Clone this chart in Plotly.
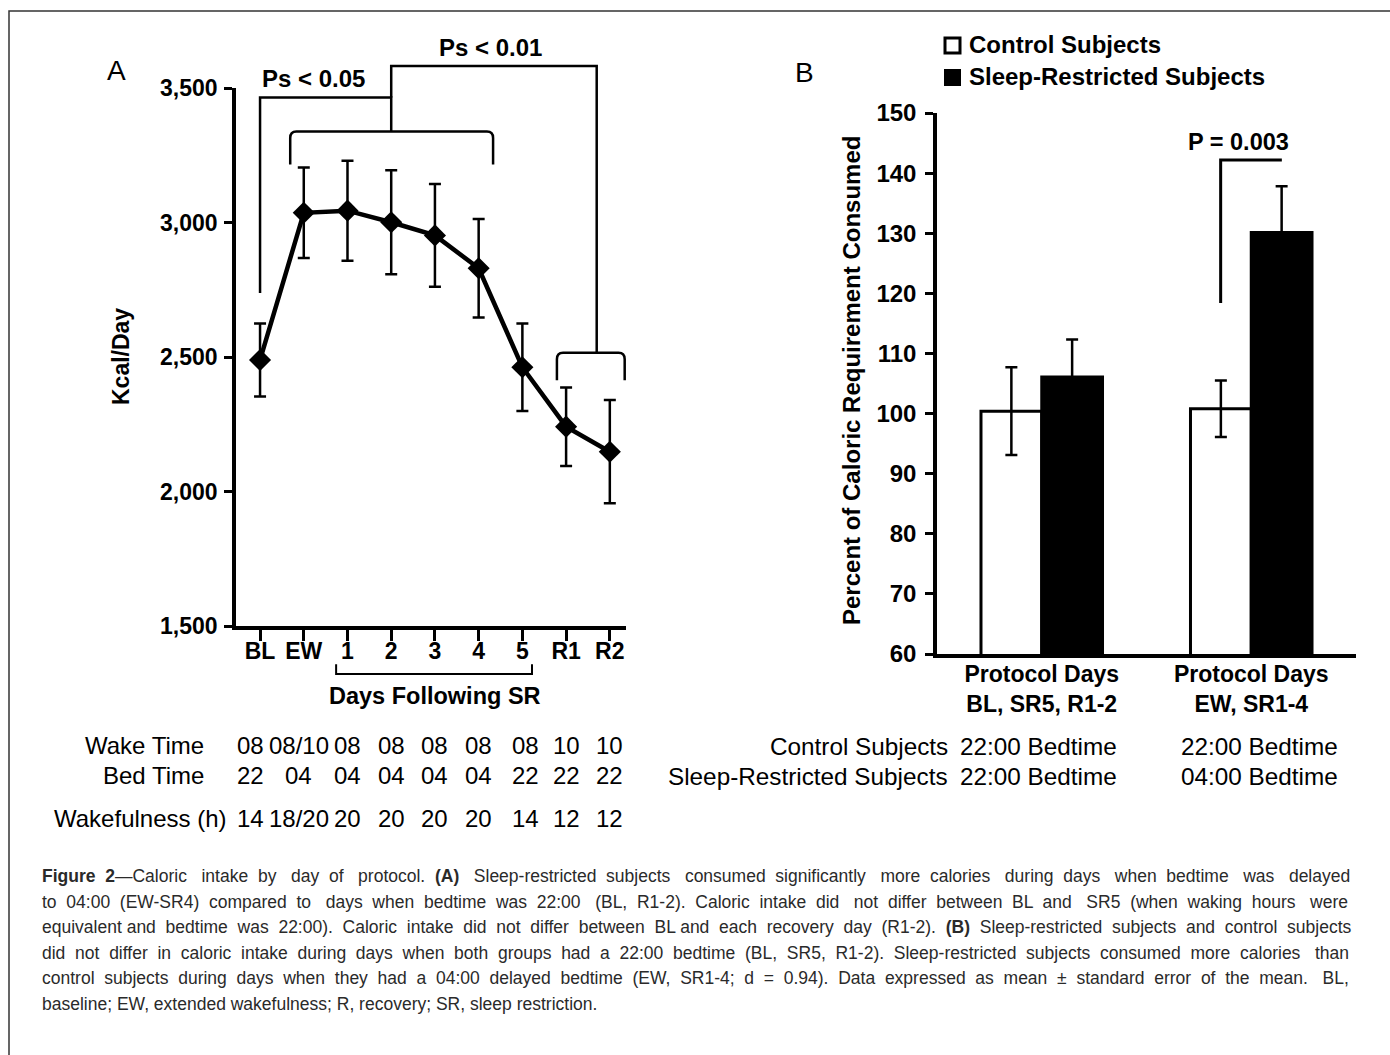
import re
import plotly.graph_objects as go

# ---------------- data ----------------
# Panel A: caloric intake by protocol day (mean, SEM)
days = ["BL", "EW", "1", "2", "3", "4", "5", "R1", "R2"]
kcal_mean = [2489, 3036, 3044, 3001, 2952, 2830, 2462, 2241, 2148]
kcal_sem = [136, 168, 186, 193, 191, 183, 163, 146, 192]
kcal_ticks = [1500, 2000, 2500, 3000, 3500]

wake_time = ["08", "08/10", "08", "08", "08", "08", "08", "10", "10"]
bed_time = ["22", "04", "04", "04", "04", "04", "22", "22", "22"]
wakefulness = ["14", "18/20", "20", "20", "20", "20", "14", "12", "12"]

# Panel B: percent of caloric requirement consumed
groups = ["Protocol Days<br>BL, SR5, R1-2", "Protocol Days<br>EW, SR1-4"]
control_pct = [100.4, 100.8]
control_sem = [7.3, 4.7]
sr_pct = [106.1, 130.1]
sr_sem = [6.2, 7.7]
control_bedtime = ["22:00 Bedtime", "22:00 Bedtime"]
sr_bedtime = ["22:00 Bedtime", "04:00 Bedtime"]

caption_lines = [
    "<b>Figure 2</b>—Caloric intake by day of protocol. <b>(A)</b> Sleep-restricted subjects consumed significantly more calories during days when bedtime was delayed",
    "to 04:00 (EW-SR4) compared to days when bedtime was 22:00 (BL, R1-2). Caloric intake did not differ between BL and SR5 (when waking hours were",
    "equivalent and bedtime was 22:00). Caloric intake did not differ between BL and each recovery day (R1-2). <b>(B)</b> Sleep-restricted subjects and control subjects",
    "did not differ in caloric intake during days when both groups had a 22:00 bedtime (BL, SR5, R1-2). Sleep-restricted subjects consumed more calories than",
    "control subjects during days when they had a 04:00 delayed bedtime (EW, SR1-4; d = 0.94). Data expressed as mean ± standard error of the mean. BL,",
    "baseline; EW, extended wakefulness; R, recovery; SR, sleep restriction.",
]
caption_justified = [True, True, True, True, True, False]

# ---------------- layout helpers ----------------
W, H = 1390, 1055
FONT = "Liberation Sans, Arial, Helvetica, sans-serif"


def px(x):
    return x / W


def py(y):
    return 1 - y / H


XA_RANGE = [-0.55, 8.37]
YA_RANGE = [1500, 3500]


def xd(i):  # category index -> x domain fraction (panel A)
    return (i - XA_RANGE[0]) / (XA_RANGE[1] - XA_RANGE[0])


def yd(v):  # kcal -> y domain fraction (panel A)
    return (v - YA_RANGE[0]) / (YA_RANGE[1] - YA_RANGE[0])


def brace_down(i0, i1, level, depth, r_i=0.14, r_v=24):
    """Horizontal bracket with rounded ends pointing down (domain coords)."""
    return (f"M {xd(i0)},{yd(level - depth)} L {xd(i0)},{yd(level - r_v)} "
            f"Q {xd(i0)},{yd(level)} {xd(i0 + r_i)},{yd(level)} "
            f"L {xd(i1 - r_i)},{yd(level)} "
            f"Q {xd(i1)},{yd(level)} {xd(i1)},{yd(level - r_v)} "
            f"L {xd(i1)},{yd(level - depth)}")


# Arial / Liberation Sans advance widths (1/1000 em) for caption justification
AR = {}
AR.update(zip("abcdefghijklmnopqrstuvwxyz",
              [556, 556, 500, 556, 556, 278, 556, 556, 222, 222, 500, 222, 833,
               556, 556, 556, 556, 333, 500, 278, 556, 500, 722, 500, 500, 500]))
AR.update(zip("ABCDEFGHIJKLMNOPQRSTUVWXYZ",
              [667, 667, 722, 722, 667, 611, 778, 722, 278, 500, 667, 556, 833,
               722, 778, 667, 778, 722, 667, 611, 722, 667, 944, 667, 667, 611]))
AR.update({d: 556 for d in "0123456789"})
AR.update({" ": 278, ".": 278, ",": 278, ":": 278, ";": 278, "(": 333, ")": 333,
           "-": 333, "—": 1000, "±": 584, "=": 584})
AB = {"F": 611, "i": 278, "g": 611, "u": 611, "r": 389, "e": 556, "2": 556,
      "(": 333, ")": 333, "A": 722, "B": 722, " ": 278}


def text_width(s, size):
    total, bold = 0, False
    for part in re.split(r"(</?b>)", s):
        if part == "<b>":
            bold = True
            continue
        if part == "</b>":
            bold = False
            continue
        tbl = AB if bold else AR
        total += sum(tbl.get(c, AR.get(c, 556)) for c in part)
    return total * size / 1000


def justify(s, size, width):
    words = s.split(" ")
    gaps = len(words) - 1
    extra = width - text_width(s, size)
    n = max(0, int(round(extra / (0.278 * size))))
    out = words[0]
    for g in range(gaps):
        k = (n * (g + 1)) // gaps - (n * g) // gaps
        out += " " + "\u00a0" * k + words[g + 1]
    return out


fig = go.Figure()

# Panel A line
fig.add_trace(go.Scatter(
    x=days, y=kcal_mean, mode="lines+markers",
    line=dict(color="black", width=4.5),
    marker=dict(symbol="diamond", size=17, color="black"),
    error_y=dict(type="data", array=kcal_sem, color="black", thickness=2.5, width=6),
    xaxis="x", yaxis="y", showlegend=False, cliponaxis=False,
))

# Panel B bars
fig.add_trace(go.Bar(
    x=groups, y=control_pct, name="Control Subjects",
    marker=dict(color="white", line=dict(color="black", width=3)),
    error_y=dict(type="data", array=control_sem, color="black", thickness=2.5, width=6),
    xaxis="x2", yaxis="y2", showlegend=False,
))
fig.add_trace(go.Bar(
    x=groups, y=sr_pct, name="Sleep-Restricted Subjects",
    marker=dict(color="black", line=dict(color="black", width=3)),
    error_y=dict(type="data", array=sr_sem, color="black", thickness=2.5, width=6),
    xaxis="x2", yaxis="y2", showlegend=False,
))

axis_common = dict(showline=True, linecolor="black", linewidth=3.5, showgrid=False,
                   zeroline=False, tickcolor="black", tickwidth=2.5, automargin=False)
bold_tick = dict(family=FONT, size=23, color="black", weight="bold")

fig.update_layout(
    width=W, height=H, autosize=False,
    margin=dict(l=0, r=0, t=0, b=0, autoexpand=False),
    paper_bgcolor="white", plot_bgcolor="white",
    barmode="group", bargap=0.42, bargroupgap=0,
    font=dict(family=FONT, color="black"),
    xaxis=dict(domain=[px(236), px(626)], anchor="y", type="category",
               categoryorder="array", categoryarray=days, range=XA_RANGE,
               ticks="outside", ticklen=11, ticklabelstandoff=-9,
               tickfont=bold_tick, **axis_common),
    yaxis=dict(domain=[py(626), py(88)], anchor="x", range=YA_RANGE,
               tickvals=kcal_ticks, tickformat=",", ticks="outside", ticklen=8,
               tickfont=bold_tick, ticklabelstandoff=2, **axis_common),
    xaxis2=dict(domain=[px(937), px(1356)], anchor="y2", type="category",
                range=[-0.5, 1.5], ticks="", ticklabelstandoff=-3,
                tickfont=bold_tick, **axis_common),
    yaxis2=dict(domain=[py(654), py(113)], anchor="x2", range=[60, 150],
                dtick=10, ticks="outside", ticklen=8, ticklabelstandoff=4,
                tickfont=dict(bold_tick, size=24), **axis_common),
)

shapes = []
# outer frame
shapes.append(dict(type="rect", xref="paper", yref="paper", x0=px(9), y0=py(1080),
                   x1=px(1420), y1=py(11), line=dict(color="#333333", width=1.5)))
# Panel A significance brackets
lw = dict(color="black", width=2.5)
shapes.append(dict(type="path", xref="x domain", yref="y domain", line=lw,
                   path=f"M {xd(0)},{yd(2738)} L {xd(0)},{yd(3465)} L {xd(3)},{yd(3465)} L {xd(3)},{yd(3338)}"))
shapes.append(dict(type="path", xref="x domain", yref="y domain", line=lw,
                   path=brace_down(0.69, 5.33, 3338, 122)))
shapes.append(dict(type="path", xref="x domain", yref="y domain", line=lw,
                   path=f"M {xd(3)},{yd(3465)} L {xd(3)},{yd(3582)} L {xd(7.7)},{yd(3582)} L {xd(7.7)},{yd(2516)}"))
shapes.append(dict(type="path", xref="x domain", yref="y domain", line=lw,
                   path=brace_down(6.79, 8.34, 2516, 102)))
# bracket under days 1-5
shapes.append(dict(type="path", xref="x domain", yref="y domain", line=dict(color="black", width=2),
                   path=f"M {xd(1.74)},{yd(1358)} L {xd(1.74)},{yd(1322)} L {xd(6.22)},{yd(1322)} L {xd(6.22)},{yd(1358)}"))
# Panel B significance bracket
shapes.append(dict(type="path", xref="x2", yref="y2", line=dict(color="black", width=3),
                   path="M 0.854,118.4 L 0.854,142.2 L 1.146,142.2"))
# legend swatches
shapes.append(dict(type="rect", xref="paper", yref="paper", x0=px(945), x1=px(960),
                   y0=py(53), y1=py(38), line=dict(color="black", width=3), fillcolor="white"))
shapes.append(dict(type="rect", xref="paper", yref="paper", x0=px(944), x1=px(961),
                   y0=py(86), y1=py(69), line=dict(color="black", width=0), fillcolor="black"))

ann = []


def txt(text, x, y, size, bold=False, xref="paper", yref="paper", xanchor="center",
        yanchor="middle", angle=0, color="black", xshift=0):
    ann.append(dict(text=text, x=x, y=y, xref=xref, yref=yref, xanchor=xanchor,
                    yanchor=yanchor, textangle=angle, showarrow=False, xshift=xshift,
                    font=dict(family=FONT, size=size, color=color,
                              weight="bold" if bold else "normal")))


txt("A", px(116), py(70), 28)
txt("B", px(804), py(72), 28)
txt("Kcal/Day", px(121), py(357), 23, bold=True, angle=-90)
txt("Percent of Caloric Requirement Consumed", px(851), py(381), 24, bold=True, angle=-90)
txt("Ps < 0.05", xd(1.23), yd(3537), 24, bold=True, xref="x domain", yref="y domain")
txt("Ps < 0.01", xd(5.26), yd(3652), 24, bold=True, xref="x domain", yref="y domain")
txt("P = 0.003", 0.94, 145.2, 23.5, bold=True, xref="x2", yref="y2")
txt("Days Following SR", 4, py(696), 23.5, bold=True, xref="x")

# legend labels
txt("Control Subjects", px(967), py(45), 24, bold=True, xanchor="left")
txt("Sleep-Restricted Subjects", px(967), py(77), 24, bold=True, xanchor="left")

# Panel A schedule table
TS = 24
txt("Wake Time", px(206), py(745), TS, xanchor="right")
txt("Bed Time", px(206), py(775), TS, xanchor="right")
txt("Wakefulness (h)", px(229), py(818), TS, xanchor="right")
shifts = [-10, -5, 0, 0, 0, 0, 3, 0, 0]
for i in range(len(days)):
    txt(wake_time[i], i, py(745), TS, xref="x", xshift=shifts[i])
    txt(bed_time[i], i, py(775), TS, xref="x", xshift=shifts[i])
    txt(wakefulness[i], i, py(818), TS, xref="x", xshift=shifts[i])

# Panel B schedule table
txt("Control Subjects", px(950), py(746), 24.3, xanchor="right")
txt("Sleep-Restricted Subjects", px(950), py(776), 24.3, xanchor="right")
for i in range(len(groups)):
    txt(control_bedtime[i], i, py(746), 24.3, xref="x2", xshift=[-3, 8][i])
    txt(sr_bedtime[i], i, py(776), 24.3, xref="x2", xshift=[-3, 8][i])

# caption (justified between x=40 and x=1350)
CS = 17.5
for k, line in enumerate(caption_lines):
    t = justify(line, CS, 1308) if caption_justified[k] else line
    txt(t, px(40), py(876 + 25.5 * k), CS, xanchor="left", color="#2a2a2a")

fig.update_layout(shapes=shapes, annotations=ann)
fig.write_html("out.html")
